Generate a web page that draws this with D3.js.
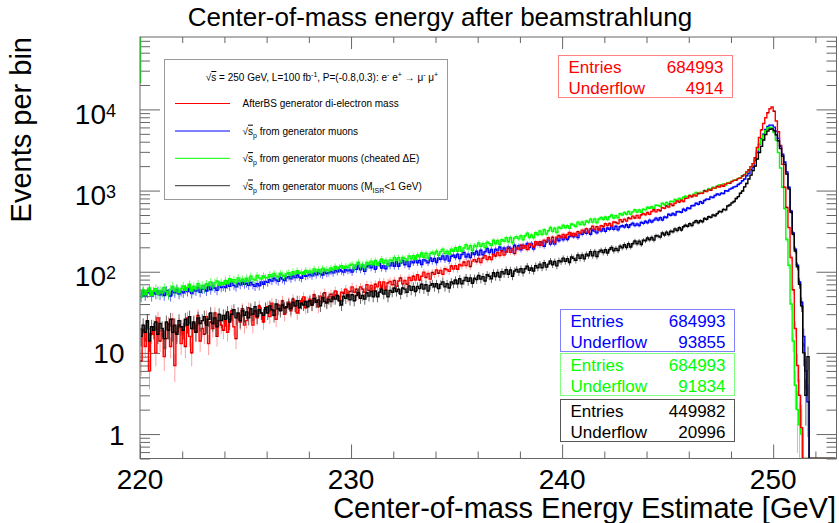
<!DOCTYPE html>
<meta charset="utf-8">
<style>
body { margin: 0; background: #fff; }
svg { font-family: "Liberation Sans", Arial, Helvetica, sans-serif; }
.frame { fill: none; stroke: #666; stroke-width: 1px; }
.ticks line { stroke: #666; }
.ticks path { display: none; }
</style>
<svg width="839" height="523"></svg>
<script src="https://cdn.jsdelivr.net/npm/d3@7"></script>
<script>

// histogram bins: 0.1 GeV wide, from 220 to 253 GeV (one row = 1 GeV)
var binStart = 220,
    binWidth = 0.1;

// AfterBS generator di-electron mass
var redCounts = [
  8, 19, 12, 24, 6, 17, 21, 10, 27, 14,
  19, 9, 15, 23, 12, 26, 7, 18, 22, 13,
  21, 12, 27, 16, 10, 23, 18, 29, 14, 20,
  17, 28, 13, 24, 20, 31, 16, 25, 22, 19,
  29, 18, 26, 33, 21, 15, 30, 24, 35, 22,
  25, 36, 29, 22, 33, 27, 38, 31, 24, 34,
  37, 28, 41, 33, 26, 39, 35, 44, 30, 36,
  42, 33, 46, 38, 31, 44, 40, 49, 36, 43,
  46, 39, 52, 44, 37, 50, 47, 55, 42, 49,
  53, 46, 58, 51, 44, 56, 54, 61, 49, 57,
  65, 56, 61, 52, 65, 61, 56, 69, 59, 68,
  58, 70, 65, 75, 63, 75, 60, 73, 76, 69,
  78, 66, 77, 84, 71, 78, 70, 85, 78, 88,
  79, 92, 79, 88, 99, 85, 95, 81, 98, 93,
  105, 96, 104, 93, 109, 106, 101, 118, 108, 119,
  107, 123, 118, 132, 119, 135, 116, 135, 141, 133,
  146, 130, 147, 158, 141, 152, 141, 164, 156, 173,
  158, 181, 161, 176, 194, 174, 191, 168, 197, 190,
  213, 194, 209, 188, 220, 213, 201, 234, 214, 235,
  212, 244, 234, 262, 235, 266, 231, 266, 279, 263,
  289, 261, 288, 305, 277, 296, 278, 312, 298, 326,
  306, 339, 309, 337, 363, 334, 360, 327, 368, 359,
  392, 372, 393, 365, 410, 405, 391, 439, 413, 445,
  422, 460, 449, 484, 460, 495, 460, 502, 520, 503,
  536, 509, 552, 580, 546, 580, 563, 616, 604, 647,
  627, 683, 654, 698, 744, 720, 761, 734, 801, 806,
  863, 840, 883, 858, 922, 924, 925, 993, 975, 1026,
  1009, 1072, 1073, 1128, 1107, 1164, 1129, 1200, 1237, 1226,
  1290, 1335, 1345, 1405, 1430, 1515, 1570, 1695, 1790, 1970,
  2150, 2550, 3400, 4500, 5600, 6700, 7900, 9100, 10200, 10700,
  9500, 7200, 5300, 3600, 2100, 1100, 620, 350, 150, 60,
  20, 7, 3, 1.2, 0, 0, 0, 0, 0, 0,
  0, 0, 0, 0, 0, 0, 0, 0, 0, 0
];

// sqrt(s_p) from generator muons
var blueCounts = [
  49, 57, 51, 55, 59, 50, 56, 53, 58, 52,
  57, 51, 59, 54, 50, 58, 55, 61, 53, 57,
  55, 61, 57, 63, 54, 60, 58, 64, 56, 61,
  62, 58, 65, 60, 67, 63, 59, 68, 64, 66,
  64, 70, 66, 73, 68, 65, 72, 69, 74, 70,
  72, 68, 74, 69, 66, 71, 67, 75, 70, 76,
  74, 80, 77, 83, 79, 76, 85, 81, 78, 84,
  87, 82, 89, 85, 91, 86, 83, 92, 88, 90,
  93, 89, 96, 92, 98, 94, 91, 99, 95, 97,
  101, 97, 104, 100, 107, 102, 99, 106, 103, 105,
  99, 112, 107, 119, 106, 118, 101, 115, 120, 112,
  121, 107, 119, 126, 111, 119, 109, 125, 118, 129,
  117, 133, 117, 128, 138, 122, 133, 116, 134, 129,
  143, 129, 138, 123, 141, 136, 129, 148, 134, 146,
  130, 148, 142, 157, 140, 157, 135, 155, 160, 150,
  164, 145, 163, 173, 152, 164, 150, 172, 163, 179,
  161, 184, 162, 176, 193, 172, 188, 164, 189, 182,
  202, 183, 196, 175, 202, 195, 182, 212, 191, 209,
  186, 212, 201, 223, 198, 223, 191, 217, 226, 211,
  231, 206, 232, 249, 220, 237, 220, 255, 241, 268,
  247, 275, 250, 272, 293, 270, 290, 263, 297, 289,
  321, 297, 315, 290, 327, 317, 301, 339, 317, 339,
  314, 346, 333, 359, 333, 363, 328, 359, 369, 355,
  380, 354, 380, 396, 370, 389, 371, 406, 394, 418,
  402, 433, 410, 433, 458, 434, 464, 434, 473, 466,
  510, 495, 521, 501, 549, 550, 539, 591, 568, 611,
  601, 650, 654, 699, 676, 730, 699, 755, 784, 782,
  836, 823, 870, 908, 886, 927, 922, 993, 988, 1043,
  1070, 1110, 1125, 1190, 1235, 1320, 1390, 1520, 1630, 1810,
  1950, 2350, 2950, 3700, 4350, 4950, 5650, 6150, 6400, 6400,
  6050, 5400, 4400, 3500, 2800, 2250, 1700, 1100, 560, 300,
  190, 120, 75, 42, 16, 6, 2.5, 0, 0, 0,
  0, 0, 0, 0, 0, 0, 0, 0, 0, 0
];

// sqrt(s_p) from generator muons (cheated dE)
var greenCounts = [
  49, 60, 52, 57, 63, 51, 58, 62, 53, 59,
  55, 64, 57, 52, 61, 66, 58, 63, 56, 62,
  67, 59, 64, 70, 58, 66, 61, 71, 63, 68,
  62, 71, 68, 75, 65, 73, 77, 68, 74, 70,
  78, 71, 82, 75, 80, 73, 84, 77, 81, 76,
  83, 77, 88, 81, 79, 90, 84, 82, 89, 85,
  84, 92, 87, 95, 89, 86, 96, 91, 88, 94,
  97, 91, 100, 94, 103, 96, 99, 93, 104, 98,
  102, 97, 108, 101, 106, 99, 110, 104, 107, 103,
  111, 106, 116, 109, 114, 119, 110, 117, 113, 120,
  124, 110, 123, 131, 115, 123, 113, 130, 123, 135,
  122, 138, 120, 131, 144, 128, 139, 121, 140, 135,
  150, 137, 149, 133, 150, 145, 137, 157, 144, 158,
  141, 161, 153, 170, 151, 169, 147, 167, 173, 165,
  179, 159, 177, 190, 167, 179, 165, 190, 179, 198,
  179, 203, 179, 196, 215, 191, 209, 183, 211, 204,
  227, 206, 222, 198, 231, 222, 210, 244, 221, 243,
  217, 248, 237, 263, 234, 264, 228, 261, 271, 254,
  278, 247, 277, 298, 263, 284, 261, 302, 286, 317,
  288, 329, 291, 320, 351, 314, 345, 304, 353, 342,
  375, 348, 370, 342, 387, 378, 360, 408, 382, 411,
  380, 421, 406, 445, 408, 448, 402, 447, 465, 440,
  473, 438, 476, 501, 460, 491, 462, 519, 500, 538,
  510, 553, 513, 546, 581, 544, 579, 541, 589, 578,
  624, 604, 632, 605, 659, 657, 641, 699, 669, 715,
  679, 736, 730, 776, 747, 801, 763, 828, 855, 840,
  877, 851, 903, 948, 911, 948, 938, 1006, 996, 1057,
  1040, 1103, 1070, 1125, 1170, 1147, 1206, 1170, 1242, 1255,
  1300, 1345, 1350, 1415, 1440, 1525, 1580, 1700, 1800, 1975,
  2150, 2500, 3150, 3750, 4250, 4800, 5450, 5900, 6050, 5900,
  5200, 4150, 2950, 1900, 1100, 600, 250, 120, 40, 14,
  4, 2, 1.3, 1, 0, 0, 0, 0, 0, 0,
  0, 0, 0, 0, 0, 0, 0, 0, 0, 0
];

// sqrt(s_p) from generator muons (M_ISR < 1 GeV)
var blackCounts = [
  16, 22, 18, 25, 14, 21, 19, 24, 17, 23,
  20, 15, 24, 19, 26, 18, 22, 17, 25, 21,
  19, 26, 22, 28, 20, 24, 18, 27, 23, 25,
  28, 22, 26, 31, 23, 27, 21, 30, 25, 29,
  26, 32, 24, 30, 34, 27, 31, 25, 33, 29,
  32, 27, 35, 30, 37, 28, 34, 31, 29, 36,
  31, 38, 34, 29, 40, 35, 33, 39, 36, 37,
  40, 35, 42, 38, 44, 36, 41, 39, 43, 37,
  44, 39, 47, 42, 45, 38, 48, 43, 41, 46,
  43, 49, 46, 51, 44, 39, 50, 47, 52, 45,
  52, 44, 51, 55, 47, 51, 46, 55, 50, 57,
  49, 58, 49, 56, 61, 53, 59, 49, 59, 56,
  63, 57, 61, 53, 63, 61, 56, 67, 59, 66,
  57, 66, 62, 70, 61, 69, 58, 68, 71, 65,
  71, 62, 70, 75, 65, 71, 63, 75, 71, 79,
  71, 82, 71, 78, 85, 76, 84, 72, 83, 80,
  90, 81, 87, 77, 92, 88, 82, 97, 87, 98,
  86, 100, 94, 106, 93, 105, 88, 102, 107, 99,
  109, 97, 109, 117, 104, 111, 102, 119, 112, 124,
  112, 129, 114, 124, 136, 122, 134, 118, 137, 133,
  147, 134, 145, 130, 152, 146, 138, 161, 146, 161,
  144, 165, 157, 177, 157, 178, 154, 176, 184, 172,
  187, 170, 188, 199, 181, 194, 183, 206, 197, 216,
  199, 222, 202, 221, 239, 221, 238, 217, 245, 240,
  260, 248, 264, 245, 278, 275, 267, 301, 284, 308,
  288, 316, 311, 337, 322, 349, 327, 359, 374, 364,
  391, 372, 404, 424, 401, 425, 413, 452, 444, 476,
  468, 501, 490, 520, 553, 546, 587, 578, 645, 665,
  705, 732, 798, 842, 928, 990, 1110, 1220, 1390, 1550,
  1760, 2000, 2450, 2950, 3500, 4200, 4900, 5400, 5700, 5750,
  5450, 4850, 4100, 3300, 2650, 2100, 1600, 1050, 540, 290,
  180, 115, 70, 38, 10, 3, 9, 0, 0, 0,
  0, 0, 0, 0, 0, 0, 0, 0, 0, 0
];

var seriesColors = ["#ff0000", "#0000ff", "#00ff00", "#000000"];
var legendColors = ["#ff0000", "#8080ff", "#00ff00", "#333333"];

var statEntries   = [684993, 684993, 684993, 449982];
var statUnderflow = [4914, 93855, 91834, 20996];
var statBorders   = ["#ff8080", "#8080ff", "#80ff80", "#555555"];

var xMajorTicks = [220, 230, 240, 250];
var yMajorTicks = [1, 10, 100, 1000, 10000];

// green first bin edge sticking out of the top of the frame
var greenEdge = 21000;

var svg = d3.select("svg");

var x = d3.scaleLinear()
    .domain([220, 253])
    .range([140, 836.5]);

var y = d3.scaleLog()
    .domain([0.5, 78000])
    .range([458.5, 37]);

var yMin = 0.5;

svg.append("clipPath")
    .attr("id", "plot")
  .append("rect")
    .attr("x", x.range()[0])
    .attr("y", y.range()[1])
    .attr("width", x.range()[1] - x.range()[0])
    .attr("height", y.range()[0] - y.range()[1]);

// title
svg.append("text")
    .attr("x", 440)
    .attr("y", 26)
    .attr("text-anchor", "middle")
    .attr("font-size", 26)
    .text("Center-of-mass energy after beamstrahlung");

// axis ticks (inward, on all four sides)
var yAll = y.ticks().filter(function(d) { return d >= yMin; });
var yMinor = yAll.filter(function(d) { return yMajorTicks.indexOf(d) < 0; });
var xAll = d3.range(220, 253, 2);
var xMinor = xAll.filter(function(d) { return xMajorTicks.indexOf(d) < 0; });

function ticks(axis, transform) {
  svg.append("g")
      .attr("class", "ticks")
      .attr("transform", transform)
      .call(axis.tickFormat("").tickSizeOuter(0));
}

ticks(d3.axisBottom(x).tickValues(xMinor).tickSize(-7), "translate(0," + y.range()[0] + ")");
ticks(d3.axisBottom(x).tickValues(xMajorTicks).tickSize(-14), "translate(0," + y.range()[0] + ")");
ticks(d3.axisTop(x).tickValues(xMinor).tickSize(-6), "translate(0," + y.range()[1] + ")");
ticks(d3.axisTop(x).tickValues(xMajorTicks).tickSize(-12), "translate(0," + y.range()[1] + ")");
ticks(d3.axisLeft(y).tickValues(yMinor).tickSize(-10), "translate(" + x.range()[0] + ",0)");
ticks(d3.axisLeft(y).tickValues(yMajorTicks).tickSize(-20), "translate(" + x.range()[0] + ",0)");
ticks(d3.axisRight(y).tickValues(yMinor).tickSize(-10), "translate(" + x.range()[1] + ",0)");
ticks(d3.axisRight(y).tickValues(yMajorTicks).tickSize(-20), "translate(" + x.range()[1] + ",0)");

// tick labels
svg.append("g").selectAll("text")
    .data(xMajorTicks)
  .enter().append("text")
    .attr("x", function(d) { return x(d); })
    .attr("y", 489)
    .attr("text-anchor", "middle")
    .attr("font-size", 28)
    .text(function(d) { return d; });

var yLab = svg.append("g").selectAll("text")
    .data(yMajorTicks)
  .enter().append("text")
    .attr("font-size", 28)
    .attr("text-anchor", "end")
    .attr("x", function(d) { return d < 100 ? 124.5 : 116; })
    .attr("y", function(d) { return y(d) + (d < 100 ? 10.5 : 14.5); });

yLab.each(function(d) {
  var t = d3.select(this);
  if (d < 100) { t.text(d); return; }
  t.append("tspan").text("10");
  t.append("tspan")
      .attr("font-size", 18)
      .attr("dy", -7)
      .text(Math.round(Math.log10(d)));
});

// axis titles
svg.append("text")
    .attr("x", 836)
    .attr("y", 517.5)
    .attr("text-anchor", "end")
    .attr("font-size", 29)
    .text("Center-of-mass Energy Estimate [GeV]");

svg.append("text")
    .attr("transform", "translate(31,37) rotate(-90)")
    .attr("text-anchor", "end")
    .attr("font-size", 29)
    .text("Events per bin");

// histograms
function points(counts) {
  return counts.map(function(v, i) { return [binStart + binWidth * (i + 0.5), v]; });
}

var line = d3.line()
    .curve(d3.curveStep)
    .x(function(d) { return x(d[0]); })
    .y(function(d) { return y(Math.max(d[1], yMin)); });

var plot = svg.append("g").attr("clip-path", "url(#plot)");

var series = [
  {counts: blueCounts, color: seriesColors[1], err: "#0000ff"},
  {counts: greenCounts, color: seriesColors[2], err: "#00ff00"},
  {counts: redCounts, color: seriesColors[0], err: "#ff6060"},
  {counts: blackCounts, color: seriesColors[3], err: "#000000"}
];

plot.append("line")
    .attr("x1", x(220) + 0.5).attr("x2", x(220) + 0.5)
    .attr("y1", y.range()[1]).attr("y2", y(greenEdge))
    .attr("stroke", seriesColors[2])
    .attr("stroke-width", 1.5);

series.forEach(function(s) {
  var pts = points(s.counts);
  var filled = pts.filter(function(d) { return d[1] > 0; });

  plot.append("g").selectAll("line")
      .data(filled)
    .enter().append("line")
      .attr("x1", function(d) { return x(d[0]); })
      .attr("x2", function(d) { return x(d[0]); })
      .attr("y1", function(d) { return y(d[1] + Math.sqrt(d[1])); })
      .attr("y2", function(d) { return y(Math.max(d[1] - Math.sqrt(d[1]), yMin)); })
      .attr("stroke", s.err)
      .attr("stroke-opacity", 0.6)
      .attr("stroke-width", 1);

  plot.append("path")
      .datum(pts)
      .attr("d", line)
      .attr("fill", "none")
      .attr("stroke", s.color)
      .attr("stroke-width", 1.4);

  if (s.counts === redCounts) {
    plot.append("g").selectAll("rect")
        .data(filled.filter(function(d, i) { return i % 3 === 0; }))
      .enter().append("rect")
        .attr("x", function(d) { return x(d[0]) - 0.6; })
        .attr("y", function(d) { return y(d[1]) - 0.6; })
        .attr("width", 1.2)
        .attr("height", 1.2)
        .attr("fill", "#500");
  }
});

svg.append("rect")
    .attr("class", "frame")
    .attr("x", x.range()[0])
    .attr("y", y.range()[1])
    .attr("width", x.range()[1] - x.range()[0])
    .attr("height", y.range()[0] - y.range()[1]);

// legend
function rich(text, segs, fs) {
  var off = 0;
  segs.forEach(function(s) {
    var shift = s[1] === "sup" ? -0.4 * fs : s[1] === "sub" ? 0.3 * fs : 0;
    var t = text.append("tspan").attr("dy", shift - off).text(s[0]);
    off = shift;
    if (s[1] === "sup" || s[1] === "sub") t.attr("font-size", fs * 0.7);
    if (s[1] === "ol") t.attr("text-decoration", "overline");
  });
}

var legendHeader = [["√", ""], ["s", "ol"], [" = 250 GeV, L=100 fb", ""], ["-1", "sup"],
  [", P=(-0.8,0.3): e", ""], ["-", "sup"], [" e", ""], ["+", "sup"], [" → μ", ""], ["-", "sup"],
  [" μ", ""], ["+", "sup"]];

var legendLabels = [
  [["AfterBS generator di-electron mass", ""]],
  [["√", ""], ["s", "ol"], ["p", "sub"], [" from generator muons", ""]],
  [["√", ""], ["s", "ol"], ["p", "sub"], [" from generator muons (cheated ΔE)", ""]],
  [["√", ""], ["s", "ol"], ["p", "sub"], [" from generator muons (M", ""], ["ISR", "sub"], ["<1 GeV)", ""]]
];

var legend = svg.append("g");

legend.append("rect")
    .attr("x", 164.5).attr("y", 59.5)
    .attr("width", 283).attr("height", 140)
    .attr("fill", "#fff")
    .attr("stroke", "#999");

rich(legend.append("text")
    .attr("x", 322).attr("y", 81)
    .attr("text-anchor", "middle")
    .attr("font-size", 10), legendHeader, 10);

legendLabels.forEach(function(segs, i) {
  var ly = 103.5 + i * 27.4;
  legend.append("line")
      .attr("x1", 175).attr("x2", 230)
      .attr("y1", ly).attr("y2", ly)
      .attr("stroke", legendColors[i])
      .attr("stroke-width", i === 1 ? 2 : 1);
  rich(legend.append("text")
      .attr("x", 242.5).attr("y", ly + 3.8)
      .attr("font-size", 10), segs, 10);
});

// statistics boxes
var statBoxes = [
  {x: 558.5, y: 55.5},
  {x: 560.5, y: 309.5},
  {x: 560.5, y: 353.5},
  {x: 560.5, y: 399.5}
];

statBoxes.forEach(function(b, i) {
  var g = svg.append("g").attr("font-size", 17).attr("fill", seriesColors[i]);
  g.append("rect")
      .attr("x", b.x).attr("y", b.y)
      .attr("width", 174).attr("height", 42)
      .attr("fill", "#fff")
      .attr("stroke", statBorders[i]);
  g.append("text").attr("x", b.x + 10).attr("y", b.y + 17).text("Entries");
  g.append("text").attr("x", b.x + 10).attr("y", b.y + 38).text("Underflow");
  g.append("text").attr("x", b.x + 165).attr("y", b.y + 17)
      .attr("text-anchor", "end").text(statEntries[i]);
  g.append("text").attr("x", b.x + 165).attr("y", b.y + 38)
      .attr("text-anchor", "end").text(statUnderflow[i]);
});

</script>
